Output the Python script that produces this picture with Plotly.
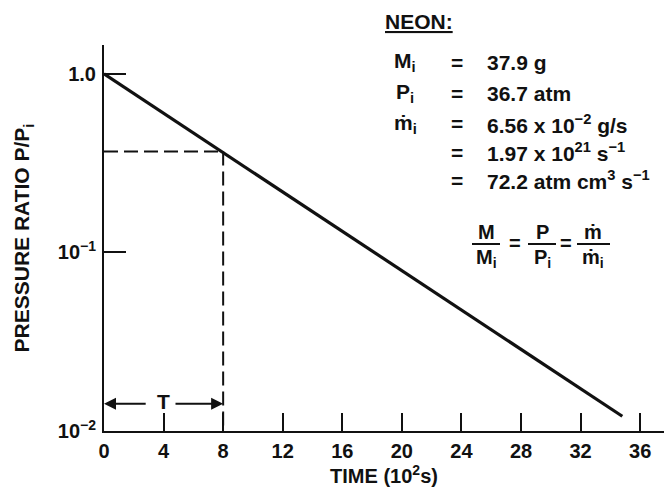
import plotly.graph_objects as go
import math

# ---- data ----
time_line = [0, 34.8]          # 10^2 s
ratio_line = [1.0, 0.0121]     # P/Pi
T_time = 8
T_ratio = 0.368
ratio_floor = 0.01
arrow_ratio = 0.0142
x_ticks = [0, 4, 8, 12, 16, 20, 24, 28, 32, 36]
y_ticks = [0.01, 0.1, 1.0]
y_ticktext = ["10<sup>−2</sup>", "10<sup>−1</sup>", "1.0"]

W, H = 667, 493
L, R, T, B = 104, 3, 45, 62
X_MAX = 37.6
Y_LOG_MIN, Y_LOG_MAX = -2, 0.162

FONT = "Liberation Sans"
BLACK = "#111111"

def px_x(p):
    return (p - L) / (W - L - R)

def px_y(p):
    return (H - B - p) / (H - B - T)

fig = go.Figure()
fig.add_trace(go.Scatter(x=time_line, y=ratio_line, mode="lines",
                         line=dict(color=BLACK, width=3.2), showlegend=False))
fig.add_trace(go.Scatter(x=[0, T_time], y=[T_ratio, T_ratio], mode="lines",
                         line=dict(color=BLACK, width=2, dash="14px,6px"), showlegend=False))
fig.add_trace(go.Scatter(x=[T_time, T_time], y=[T_ratio, ratio_floor], mode="lines",
                         line=dict(color=BLACK, width=2, dash="14px,6px"), showlegend=False))

ann = []
# T arrow
ly = math.log10(arrow_ratio)
ann.append(dict(x=0, y=ly, ax=2.9, ay=ly, xref="x", yref="y", axref="x", ayref="y",
                showarrow=True, arrowhead=2, arrowsize=1.2, arrowwidth=2, arrowcolor=BLACK, text=""))
ann.append(dict(x=T_time, y=ly, ax=4.7, ay=ly, xref="x", yref="y", axref="x", ayref="y",
                showarrow=True, arrowhead=2, arrowsize=1.2, arrowwidth=2, arrowcolor=BLACK, text=""))
ann.append(dict(x=4, y=ly, xref="x", yref="y", text="<b>T</b>", showarrow=False,
                font=dict(family=FONT, size=21, color=BLACK), yshift=2))

def txt(x, y, s, size=21, xanchor="left"):
    ann.append(dict(x=px_x(x), y=px_y(y), xref="paper", yref="paper", text=s,
                    showarrow=False, xanchor=xanchor, yanchor="middle",
                    font=dict(family=FONT, size=size, color=BLACK)))

txt(419, 21, "<b><u>NEON:</u></b>", xanchor="center")
rows = [
    (62, "<b>M<sub>i</sub></b>", "<b>37.9 g</b>"),
    (93, "<b>P<sub>i</sub></b>", "<b>36.7 atm</b>"),
    (124, "<b>ṁ<sub>i</sub></b>", "<b>6.56 x 10<sup>−2</sup> g/s</b>"),
    (152, "", "<b>1.97 x 10<sup>21</sup> s<sup>−1</sup></b>"),
    (180, "", "<b>72.2 atm cm<sup>3</sup> s<sup>−1</sup></b>"),
]
for y, lab, val in rows:
    if lab:
        txt(405, y, lab, xanchor="center")
    txt(457, y, "<b>=</b>", xanchor="center")
    txt(485, y, val)

# formula M/Mi = P/Pi = m/mi
fracs = [(486, "M", 472, 500), (542, "P", 528, 556), (593, "ṁ", 577, 610)]
shapes = []
for cx, sym, x0, x1 in fracs:
    txt(cx, 232, f"<b>{sym}</b>", size=20, xanchor="center")
    txt(cx, 258, f"<b>{sym}<sub>i</sub></b>", size=20, xanchor="center")
    shapes.append(dict(type="line", xref="paper", yref="paper",
                       x0=px_x(x0), x1=px_x(x1), y0=px_y(244), y1=px_y(244),
                       line=dict(color=BLACK, width=2)))
txt(515, 243, "<b>=</b>", size=20, xanchor="center")
txt(566, 243, "<b>=</b>", size=20, xanchor="center")

fig.update_layout(
    width=W, height=H,
    margin=dict(l=L, r=R, t=T, b=B, autoexpand=False),
    paper_bgcolor="white", plot_bgcolor="white",
    showlegend=False,
    annotations=ann, shapes=shapes,
    xaxis=dict(range=[0, X_MAX], tickvals=x_ticks, ticktext=[f"<b>{v}</b>" for v in x_ticks],
               ticks="inside", ticklen=18, tickwidth=2, tickcolor=BLACK,
               showline=True, linecolor=BLACK, linewidth=2, showgrid=False, zeroline=False,
               tickfont=dict(family=FONT, size=20, color=BLACK), ticklabelstandoff=1,
               title=dict(text="<b>TIME (10<sup>2</sup>s)</b>", font=dict(family=FONT, size=20, color=BLACK),
                          standoff=6)),
    yaxis=dict(type="log", range=[Y_LOG_MIN, Y_LOG_MAX], tickvals=y_ticks,
               ticktext=[f"<b>{t}</b>" for t in y_ticktext],
               ticks="inside", ticklen=22, tickwidth=2, tickcolor=BLACK,
               showline=True, linecolor=BLACK, linewidth=2, showgrid=False, zeroline=False,
               tickfont=dict(family=FONT, size=20, color=BLACK), ticklabelstandoff=2,
               title=dict(text="<b>PRESSURE RATIO P/P<sub>i</sub></b>",
                          font=dict(family=FONT, size=21, color=BLACK), standoff=22)),
)

fig.write_html("out.html")
